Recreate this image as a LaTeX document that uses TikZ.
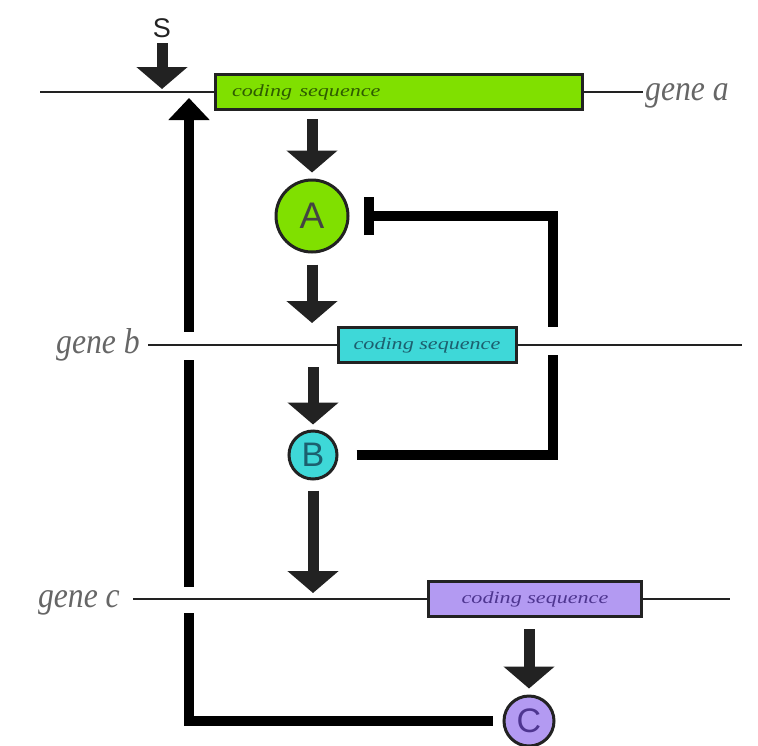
\documentclass[tikz,border=0pt]{standalone}
\usepackage{fontspec}
\usepackage{graphicx}
\setmainfont{Liberation Serif}
\newfontfamily\protfont{Liberation Sans}
\usetikzlibrary{arrows.meta}
\definecolor{cdsA}{HTML}{80E000}
\definecolor{cdsB}{HTML}{3ED8D8}
\definecolor{cdsC}{HTML}{B39AF2}
\definecolor{txtA}{HTML}{2E5C00}
\definecolor{txtB}{HTML}{1C5F6E}
\definecolor{txtC}{HTML}{4E3590}
\definecolor{ink}{HTML}{222222}
\newcommand{\cdstext}{\scalebox{1.3}[1]{coding sequence}}
\newcommand{\genetext}[1]{\scalebox{0.88}[1]{#1}}
\begin{document}
\begin{tikzpicture}[x=1pt,y=-1pt,
  dna/.style={draw=ink, line width=2.6pt},
  cds/.style={draw=ink, line width=3pt, minimum height=35pt, inner sep=0pt,
    font=\itshape\fontsize{17}{17}\selectfont},
  prot/.style={circle, draw=ink, line width=3pt, inner sep=0pt,
    font=\protfont\fontsize{34}{34}\selectfont},
  genelabel/.style={text=black!60, font=\itshape\fontsize{36}{36}\selectfont, inner sep=0pt},
  flow/.style={draw=ink, line width=11pt, -{Triangle[width=50pt,length=22pt]}},
  feedback/.style={draw=black, line width=10pt, line join=miter},
  gap/.style={fill=white, draw=none}]

\useasboundingbox (0,0) rectangle (758,745);
\fill[white] (0,0) rectangle (758,745);

% coding sequences
\node[cds, fill=cdsA, minimum width=367pt, text width=355pt, align=left, text=txtA]
  (ca) at (398.5,92) {\hspace*{11pt}\cdstext};
\node[cds, fill=cdsB, minimum width=178pt, text=txtB] (cb) at (427,345) {\cdstext};
\node[cds, fill=cdsC, minimum width=213pt, text=txtC] (cc) at (535,599) {\cdstext};

% gene labels
\node[genelabel, anchor=base west] (la) at (645,100) {\genetext{gene a}};
\node[genelabel, anchor=base east] (lb) at (140,353) {\genetext{gene b}};
\node[genelabel, anchor=base east] (lc) at (120,607) {\genetext{gene c}};

% proteins
\node[prot, fill=cdsA, minimum size=72pt, text=ink!85,
  font=\protfont\fontsize{37}{37}\selectfont] (A) at (312,216) {A};
\node[prot, fill=cdsB, minimum size=48pt, text=txtB] (B) at (313,455) {B};
\node[prot, fill=cdsC, minimum size=50pt, text=txtC] (C) at (529,721) {C};

% signal
\node[font=\protfont\fontsize{27}{27}\selectfont, text=ink] (S) at (162,28) {S};

% free ends of connectors
\coordinate (aL) at (40,92);
\coordinate (bR) at (742,345);
\coordinate (cR) at (730,599);
\coordinate (sTip) at (162,89);
\coordinate (bIn) at (312,323);
\coordinate (cIn) at (313,593);
\coordinate (fb) at (553,455);
\coordinate (aProm) at (189,98);

% regulatory loops
\draw[feedback, -{Bar[width=38pt]}, shorten <=18pt, shorten >=14pt]
  (B.east) -- (fb) |- (A.east);
\draw[feedback, -{Triangle[width=40pt,length=22pt]}, shorten <=10pt]
  (C.west) -| (aProm);

% loops pass beneath the DNA strands
\fill[gap] (181,332) rectangle (197,360);
\fill[gap] (181,587) rectangle (197,613);
\fill[gap] (545,327) rectangle (561,355);

% DNA strands
\draw[dna] (aL) -- (ca.west);
\draw[dna, shorten >=2pt] (ca.east) -- (la.west |- ca.east);
\draw[dna, shorten <=8pt] (lb.east |- cb.west) -- (cb.west);
\draw[dna] (cb.east) -- (bR);
\draw[dna, shorten <=13pt] (lc.east |- cc.west) -- (cc.west);
\draw[dna] (cc.east) -- (cR);

% expression arrows
\draw[flow, shorten <=2pt] (S.south) -- (sTip);
\draw[flow, shorten <=8pt, shorten >=6pt] (ca.south -| A.north) -- (A.north);
\draw[flow, shorten <=11pt] (A.south) -- (bIn);
\draw[flow, shorten <=3pt, shorten >=5pt] (cb.south -| B.north) -- (B.north);
\draw[flow, shorten <=10pt] (B.south) -- (cIn);
\draw[flow, shorten <=11pt, shorten >=6pt] (cc.south -| C.north) -- (C.north);
\end{tikzpicture}
\end{document}
